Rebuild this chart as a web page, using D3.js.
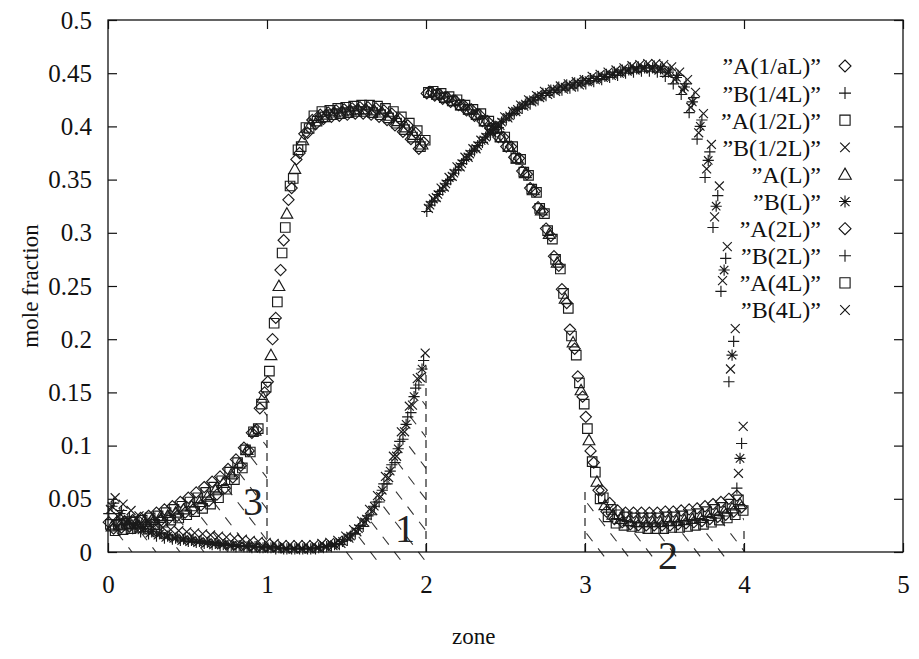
<!DOCTYPE html>
<html>
<head>
<meta charset="utf-8">
<script src="https://cdn.jsdelivr.net/npm/d3@7"></script>
<style>
  body { margin: 0; background: #fff; }
</style>
</head>
<body>
<div id="chart"></div>
<script>
// Axis ticks
const zoneTicks = [0, 1, 2, 3, 4, 5];
const fractionTicks = [0, 0.05, 0.1, 0.15, 0.2, 0.25, 0.3, 0.35, 0.4, 0.45, 0.5];
const fractionLabels = ["0", "0.05", "0.1", "0.15", "0.2", "0.25", "0.3", "0.35", "0.4", "0.45", "0.5"];

// Cells: 20 per zone, each resolution sits at its own place inside the cell
const cellsPerZone = 20;
const cellOffset = [0.1, 0.3, 0.5, 0.7, 0.9];

// Species A, one array per resolution (zones 0-1, 1-2, 2-3, 3-4)
const aQuarter = [
  0.028,0.028,0.029,0.030,0.032,0.034,0.037,0.040,0.043,0.047,0.051,0.056,0.061,0.066,0.071,0.078,0.087,0.098,0.112,0.135,
  0.160,0.220,0.293,0.342,0.375,0.394,0.402,0.407,0.409,0.410,0.411,0.412,0.412,0.411,0.409,0.406,0.401,0.395,0.388,0.379,
  0.431,0.429,0.426,0.423,0.420,0.415,0.410,0.405,0.398,0.390,0.381,0.371,0.358,0.342,0.324,0.304,0.278,0.247,0.209,0.165,
  0.127,0.084,0.058,0.046,0.039,0.037,0.037,0.037,0.037,0.037,0.038,0.038,0.039,0.040,0.041,0.043,0.045,0.047,0.050,0.053];
const aHalf = [
  0.026,0.026,0.027,0.028,0.030,0.032,0.034,0.037,0.040,0.043,0.047,0.051,0.056,0.061,0.067,0.075,0.084,0.096,0.113,0.139,
  0.170,0.235,0.305,0.351,0.381,0.398,0.405,0.409,0.411,0.412,0.413,0.414,0.414,0.413,0.411,0.408,0.403,0.397,0.390,0.381,
  0.432,0.430,0.427,0.424,0.420,0.416,0.411,0.405,0.398,0.390,0.381,0.370,0.357,0.341,0.323,0.302,0.275,0.243,0.203,0.159,
  0.116,0.075,0.051,0.040,0.035,0.033,0.032,0.032,0.032,0.032,0.033,0.033,0.034,0.035,0.036,0.038,0.040,0.042,0.045,0.049];
const aL = [
  0.024,0.025,0.026,0.027,0.028,0.030,0.032,0.034,0.037,0.040,0.043,0.047,0.052,0.058,0.065,0.073,0.083,0.096,0.114,0.145,
  0.185,0.250,0.318,0.360,0.387,0.402,0.408,0.411,0.413,0.414,0.415,0.416,0.416,0.415,0.413,0.410,0.405,0.399,0.392,0.383,
  0.432,0.430,0.427,0.424,0.420,0.416,0.411,0.405,0.398,0.390,0.381,0.370,0.356,0.340,0.321,0.299,0.272,0.238,0.197,0.152,
  0.105,0.066,0.044,0.035,0.031,0.029,0.028,0.028,0.028,0.028,0.029,0.029,0.030,0.031,0.032,0.034,0.036,0.038,0.041,0.045];
const a2L = [
  0.022,0.023,0.024,0.025,0.026,0.028,0.030,0.032,0.034,0.037,0.040,0.044,0.048,0.054,0.060,0.070,0.081,0.095,0.115,0.150,
  0.200,0.265,0.331,0.369,0.393,0.406,0.411,0.413,0.415,0.416,0.417,0.418,0.418,0.417,0.415,0.412,0.407,0.401,0.394,0.385,
  0.432,0.430,0.427,0.424,0.420,0.416,0.411,0.405,0.398,0.390,0.381,0.370,0.355,0.339,0.320,0.297,0.269,0.234,0.191,0.146,
  0.095,0.058,0.038,0.031,0.028,0.026,0.025,0.025,0.025,0.025,0.025,0.026,0.027,0.028,0.029,0.031,0.033,0.035,0.038,0.042];
const a4L = [
  0.020,0.021,0.022,0.023,0.024,0.026,0.028,0.030,0.032,0.035,0.038,0.041,0.045,0.051,0.059,0.068,0.079,0.094,0.116,0.155,
  0.215,0.281,0.344,0.378,0.399,0.410,0.414,0.415,0.417,0.418,0.419,0.420,0.420,0.419,0.417,0.414,0.409,0.403,0.396,0.387,
  0.433,0.431,0.428,0.425,0.420,0.416,0.412,0.405,0.398,0.390,0.381,0.369,0.354,0.338,0.318,0.294,0.266,0.229,0.185,0.139,
  0.085,0.050,0.033,0.027,0.025,0.024,0.023,0.022,0.022,0.022,0.023,0.023,0.024,0.025,0.026,0.028,0.030,0.032,0.035,0.039];

// Species B
const bQuarter = [
  0.036,0.030,0.026,0.022,0.019,0.017,0.015,0.013,0.012,0.011,0.010,0.009,0.008,0.007,0.006,0.006,0.005,0.005,0.004,0.004,
  0.004,0.003,0.003,0.003,0.003,0.003,0.003,0.004,0.005,0.007,0.011,0.017,0.024,0.035,0.047,0.064,0.084,0.106,0.131,0.157,
  0.320,0.330,0.340,0.350,0.359,0.369,0.377,0.385,0.392,0.399,0.406,0.412,0.417,0.421,0.425,0.429,0.432,0.434,0.436,0.438,
  0.440,0.442,0.444,0.446,0.448,0.450,0.451,0.452,0.452,0.451,0.447,0.440,0.430,0.413,0.388,0.352,0.305,0.245,0.160,0.060];
const bHalf = [
  0.040,0.033,0.028,0.024,0.021,0.018,0.016,0.014,0.013,0.011,0.010,0.009,0.008,0.007,0.007,0.006,0.005,0.005,0.004,0.004,
  0.004,0.004,0.003,0.003,0.003,0.003,0.004,0.005,0.006,0.008,0.013,0.019,0.028,0.039,0.052,0.070,0.090,0.113,0.138,0.164,
  0.323,0.333,0.343,0.353,0.362,0.371,0.379,0.387,0.394,0.401,0.408,0.414,0.419,0.423,0.427,0.430,0.433,0.435,0.437,0.439,
  0.442,0.444,0.446,0.448,0.450,0.452,0.453,0.454,0.454,0.453,0.450,0.444,0.434,0.418,0.394,0.360,0.315,0.255,0.172,0.074];
const bL = [
  0.043,0.036,0.030,0.026,0.022,0.019,0.017,0.015,0.013,0.012,0.011,0.010,0.009,0.008,0.007,0.006,0.006,0.005,0.005,0.004,
  0.004,0.004,0.003,0.003,0.003,0.003,0.004,0.005,0.007,0.010,0.015,0.022,0.031,0.043,0.058,0.076,0.097,0.120,0.146,0.172,
  0.326,0.336,0.346,0.356,0.365,0.374,0.382,0.390,0.397,0.404,0.410,0.416,0.421,0.425,0.429,0.432,0.435,0.437,0.439,0.441,
  0.443,0.445,0.447,0.449,0.451,0.453,0.454,0.455,0.455,0.454,0.451,0.446,0.437,0.423,0.400,0.368,0.325,0.265,0.185,0.088];
const b2L = [
  0.046,0.039,0.033,0.028,0.024,0.021,0.018,0.016,0.014,0.013,0.012,0.011,0.010,0.009,0.008,0.007,0.006,0.006,0.005,0.005,
  0.005,0.004,0.004,0.004,0.004,0.004,0.005,0.006,0.008,0.012,0.017,0.025,0.034,0.047,0.064,0.082,0.104,0.127,0.154,0.180,
  0.329,0.339,0.349,0.359,0.368,0.377,0.385,0.393,0.400,0.407,0.412,0.418,0.423,0.427,0.431,0.434,0.437,0.439,0.441,0.443,
  0.445,0.447,0.449,0.451,0.453,0.455,0.456,0.457,0.457,0.456,0.453,0.448,0.440,0.427,0.406,0.376,0.335,0.276,0.198,0.102];
const b4L = [
  0.051,0.045,0.039,0.034,0.030,0.026,0.023,0.021,0.020,0.019,0.018,0.017,0.016,0.015,0.014,0.013,0.012,0.011,0.010,0.009,
  0.008,0.007,0.007,0.007,0.007,0.007,0.008,0.009,0.011,0.015,0.021,0.029,0.040,0.053,0.071,0.090,0.113,0.137,0.163,0.187,
  0.332,0.342,0.352,0.362,0.371,0.379,0.387,0.395,0.402,0.409,0.414,0.420,0.425,0.429,0.433,0.435,0.438,0.440,0.442,0.444,
  0.447,0.449,0.451,0.453,0.455,0.457,0.458,0.459,0.459,0.458,0.456,0.451,0.444,0.432,0.412,0.383,0.344,0.287,0.210,0.118];

// Legend order as in the plot key
const seriesLabels = ["”A(1/aL)”", "”B(1/4L)”", "”A(1/2L)”", "”B(1/2L)”", "”A(L)”",
                      "”B(L)”", "”A(2L)”", "”B(2L)”", "”A(4L)”", "”B(4L)”"];
const seriesValues = [aQuarter, bQuarter, aHalf, bHalf, aL, bL, a2L, b2L, a4L, b4L];
const seriesResolution = [0, 0, 1, 1, 2, 2, 3, 3, 4, 4];
const seriesShape = ["diamond", "plus", "square", "cross", "triangle", "asterisk", "diamond", "plus", "square", "cross"];

// Dashed zone boundaries and the hatched regions
const boundaryZone = [1, 2, 3, 4];
const boundaryTop = [0.15, 0.175, 0.06, 0.02];
const regionLabels = ["3", "1", "2"];
const regionLabelZone = [0.912, 1.868, 3.522];
const regionLabelFraction = [0.047, 0.022, -0.004];

// Set up dimensions
const width = 919;
const height = 659;
const margin = {left: 108, right: 16, top: 20, bottom: 107};

const svg = d3.select("#chart")
    .append("svg")
    .attr("width", width)
    .attr("height", height)
    .style("font-family", "'Liberation Serif', 'DejaVu Serif', serif");

const x = d3.scaleLinear().domain([0, 5]).range([margin.left, width - margin.right]);
const y = d3.scaleLinear().domain([0, 0.5]).range([height - margin.bottom, margin.top]);

// x position of cell i for a resolution
const cellZone = (i, r) => Math.floor(i / cellsPerZone) + ((i % cellsPerZone) + cellOffset[r]) / cellsPerZone;

// Outline symbols in the old gnuplot style
const shapes = {
    diamond: {draw(c, s) { c.moveTo(0, -s); c.lineTo(s, 0); c.lineTo(0, s); c.lineTo(-s, 0); c.closePath(); }},
    plus: {draw(c, s) { c.moveTo(-s, 0); c.lineTo(s, 0); c.moveTo(0, -s); c.lineTo(0, s); }},
    square: {draw(c, s) { const h = s * 0.85; c.moveTo(-h, -h); c.lineTo(h, -h); c.lineTo(h, h); c.lineTo(-h, h); c.closePath(); }},
    cross: {draw(c, s) { const h = s * 0.8; c.moveTo(-h, -h); c.lineTo(h, h); c.moveTo(-h, h); c.lineTo(h, -h); }},
    triangle: {draw(c, s) { c.moveTo(0, -s * 1.05); c.lineTo(s * 1.05, s * 0.8); c.lineTo(-s * 1.05, s * 0.8); c.closePath(); }},
    asterisk: {draw(c, s) {
        c.moveTo(-s, 0); c.lineTo(s, 0); c.moveTo(0, -s); c.lineTo(0, s);
        const h = s * 0.75; c.moveTo(-h, -h); c.lineTo(h, h); c.moveTo(-h, h); c.lineTo(h, -h);
    }}
};
const symbolPath = (shape, size) => d3.symbol().type(shapes[shape]).size(size)();

const defs = svg.append("defs");

// Hatched regions, clipped to an area under the curves
function hatch(id, poly) {
    const pts = poly.map(([zx, fy]) => [x(zx), y(fy)]);
    defs.append("clipPath").attr("id", id)
        .append("polygon").attr("points", pts.map(p => p.join(",")).join(" "));
    const [x0, x1] = d3.extent(pts, p => p[0]);
    const [y0, y1] = d3.extent(pts, p => p[1]);
    const run = (y1 - y0) / 1.3;
    const g = svg.append("g").attr("clip-path", `url(#${id})`)
        .attr("stroke", "#333").attr("stroke-width", 1.1).attr("stroke-dasharray", "10,9");
    g.selectAll("line")
        .data(d3.range(x0 - run, x1 + 1, 24))
        .enter()
        .append("line")
        .attr("x1", d => d).attr("y1", y0)
        .attr("x2", d => d + run).attr("y2", y1);
}

const zonePoints = (values, r, from, to) =>
    d3.range(from, to).map(i => [cellZone(i, r), values[i]]);

hatch("hatch3", [[0, 0], ...zonePoints(a4L, 4, 0, 20), [1, 0.16], [1, 0]]);
hatch("hatch1", [[1.4, -0.01], ...zonePoints(bQuarter, 0, 28, 40), [2, 0.17], [2, -0.01]]);
hatch("hatch2", [[3, -0.01], [3, 0.06], ...zonePoints(a4L, 4, 62, 80), [4, 0.037], [4, -0.01]]);

// Dashed zone boundaries
svg.append("g")
    .selectAll("line")
    .data(boundaryZone)
    .enter()
    .append("line")
    .attr("x1", d => x(d)).attr("x2", d => x(d))
    .attr("y1", y(0)).attr("y2", (d, i) => y(boundaryTop[i]))
    .attr("stroke", "#222").attr("stroke-width", 1.2).attr("stroke-dasharray", "8,5");

// Region labels
svg.append("g")
    .selectAll("text")
    .data(regionLabels)
    .enter()
    .append("text")
    .attr("x", (d, i) => x(regionLabelZone[i]))
    .attr("y", (d, i) => y(regionLabelFraction[i]))
    .attr("dy", "0.33em")
    .attr("text-anchor", "middle")
    .style("font-size", "40px")
    .attr("fill", "#222")
    .text(d => d);

// Frame
svg.append("rect")
    .attr("x", x(0)).attr("y", y(0.5))
    .attr("width", x(5) - x(0)).attr("height", y(0) - y(0.5))
    .attr("fill", "none").attr("stroke", "#111").attr("stroke-width", 1.3);

// Axes with inward ticks, mirrored on top and right
function styleAxis(g) {
    g.select(".domain").remove();
    g.selectAll(".tick line").attr("stroke", "#111").attr("stroke-width", 1.2);
    g.selectAll("text").attr("fill", "#111")
        .style("font-family", "'Liberation Serif', 'DejaVu Serif', serif")
        .style("font-size", "25px");
}

svg.append("g")
    .attr("transform", `translate(${x(0)},0)`)
    .call(d3.axisLeft(y).tickValues(fractionTicks).tickSize(-9).tickPadding(16)
        .tickFormat((d, i) => fractionLabels[i]))
    .call(styleAxis);

svg.append("g")
    .attr("transform", `translate(${x(5)},0)`)
    .call(d3.axisRight(y).tickValues(fractionTicks).tickSize(-9).tickFormat(""))
    .call(styleAxis);

svg.append("g")
    .attr("transform", `translate(0,${y(0)})`)
    .call(d3.axisBottom(x).tickValues(zoneTicks).tickSize(-9).tickPadding(23)
        .tickFormat(d3.format("d")))
    .call(styleAxis);

svg.append("g")
    .attr("transform", `translate(0,${y(0.5)})`)
    .call(d3.axisTop(x).tickValues(zoneTicks).tickSize(-9).tickFormat(""))
    .call(styleAxis);

// Axis titles
svg.append("text")
    .attr("transform", `translate(30,${(y(0) + y(0.5)) / 2}) rotate(-90)`)
    .attr("text-anchor", "middle")
    .attr("dy", "0.35em")
    .style("font-size", "23px")
    .attr("fill", "#111")
    .text("mole fraction");

svg.append("text")
    .attr("x", x(2.3))
    .attr("y", 644)
    .attr("text-anchor", "middle")
    .style("font-size", "23px")
    .attr("fill", "#111")
    .text("zone");

// Data points
seriesValues.forEach((values, s) => {
    const r = seriesResolution[s];
    svg.append("g")
        .selectAll("path")
        .data(values)
        .enter()
        .append("path")
        .attr("transform", (d, i) => `translate(${x(cellZone(i, r))},${y(d)})`)
        .attr("d", symbolPath(seriesShape[s], 5.6))
        .attr("fill", "none")
        .attr("stroke", "#1a1a1a")
        .attr("stroke-width", 1.15);
});

// Key, right aligned text with the symbol beside it
const keyRow = d3.scalePoint().domain(seriesLabels).range([66, 310]);
const key = svg.append("g");
key.selectAll("text")
    .data(seriesLabels)
    .enter()
    .append("text")
    .attr("x", 821)
    .attr("y", d => keyRow(d))
    .attr("dy", "0.35em")
    .attr("text-anchor", "end")
    .style("font-size", "24px")
    .attr("fill", "#111")
    .text(d => d);
key.selectAll("path")
    .data(seriesLabels)
    .enter()
    .append("path")
    .attr("transform", d => `translate(845,${keyRow(d)})`)
    .attr("d", (d, i) => symbolPath(seriesShape[i], 6))
    .attr("fill", "none")
    .attr("stroke", "#111")
    .attr("stroke-width", 1.1);
</script>
</body>
</html>
